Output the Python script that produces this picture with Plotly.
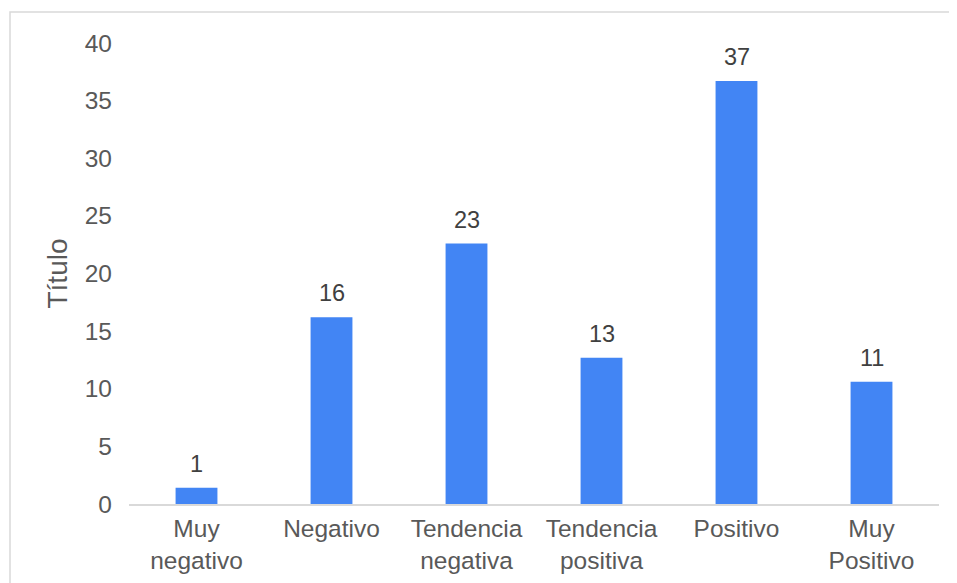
import plotly.graph_objects as go

categories = ["Muy<br>negativo", "Negativo", "Tendencia<br>negativa", "Tendencia<br>positiva", "Positivo", "Muy<br>Positivo"]
values = [1.4, 16.2, 22.6, 12.7, 36.7, 10.6]
labels = ["1", "16", "23", "13", "37", "11"]
y_ticks = [0, 5, 10, 15, 20, 25, 30, 35, 40]

FONT = "Liberation Sans, Arial, sans-serif"
BAR = "#4285F4"
FS = 24.5

fig = go.Figure()
fig.add_trace(go.Bar(
    x=categories, y=values,
    marker=dict(color=BAR, line=dict(width=0)),
    hoverinfo="skip",
))

for c, v, t in zip(categories, values, labels):
    fig.add_annotation(
        x=c, y=v, text=t, showarrow=False, yanchor="bottom",
        yshift=9, font=dict(family=FONT, size=23.5, color="#404040"),
    )

fig.update_layout(
    width=957, height=583,
    margin=dict(l=121, r=26, t=35, b=87),
    paper_bgcolor="white", plot_bgcolor="white",
    bargap=0.69,
    showlegend=False,
    font=dict(family=FONT, size=FS, color="#595959"),
    xaxis=dict(
        showgrid=False, showline=True, linecolor="#d9d9d9", linewidth=1.5,
        ticks="", tickfont=dict(family=FONT, size=FS, color="#595959"),
        ticklabelstandoff=2,
    ),
    yaxis=dict(
        range=[0, 40], tickvals=y_ticks, showgrid=False, showline=False,
        zeroline=False, ticks="",
        tickfont=dict(family=FONT, size=FS, color="#595959"),
        ticklabelstandoff=16,
        title=dict(text="Título", font=dict(family=FONT, size=28, color="#595959"), standoff=8),
    ),
    shapes=[dict(
        type="rect", xref="paper", yref="paper",
        x0=(10 - 129) / 810, x1=(975 - 129) / 810,
        y0=(504 - 600) / 461, y1=(504 - 12) / 461,
        line=dict(color="#d9d9d9", width=1.5), fillcolor="rgba(0,0,0,0)", layer="below",
    )],
)

fig.write_html("out.html")
